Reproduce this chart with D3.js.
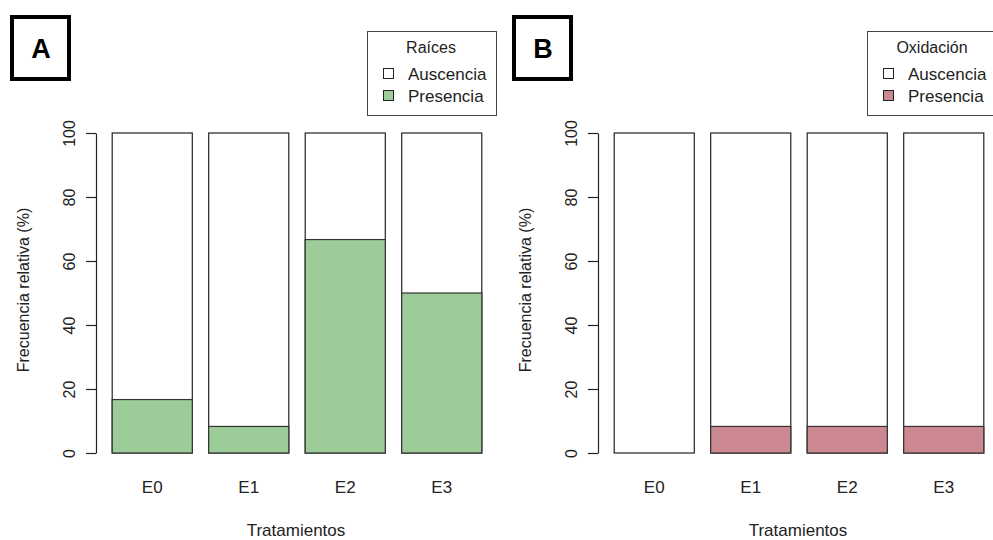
<!DOCTYPE html>
<html><head><meta charset="utf-8">
<script src="https://cdn.jsdelivr.net/npm/d3@7"></script>
<style>body{margin:0;background:#fff}svg{display:block}text{font-family:"Liberation Sans",Arial,sans-serif}</style>
</head><body><svg id="c" width="993" height="540"></svg>
<script>
const categories = ["E0","E1","E2","E3"];
const raicesPresencia = [16.7, 8.3, 66.7, 50];
const oxidacionPresencia = [0, 8.3, 8.3, 8.3];
const yTicks = [0,20,40,60,80,100];
const legendLabels = ["Auscencia","Presencia"];

const svg = d3.select("#c");
const y = d3.scaleLinear().domain([0,100]).range([453,133]);

function panel(opt){
  const g = svg.append("g");
  const x = d3.scaleBand().domain(categories).range([opt.x0, opt.x0+386]).paddingInner(0.17).paddingOuter(0.085);
  g.selectAll("rect.aus").data(categories).join("rect")
    .attr("x", d=>x(d)).attr("width", x.bandwidth())
    .attr("y", y(100)).attr("height", y(0)-y(100))
    .attr("fill","#fff").attr("stroke","#222").attr("stroke-width",1.2);
  g.selectAll("rect.pre").data(opt.values).join("rect")
    .attr("x", (d,i)=>x(categories[i])).attr("width", x.bandwidth())
    .attr("y", d=>y(d)).attr("height", d=>y(0)-y(d))
    .attr("fill", opt.color).attr("stroke","#333").attr("stroke-width",1.2)
    .attr("display", d=> d>0 ? null : "none");
  const ax = g.append("g").attr("transform",`translate(${opt.axisX},0)`)
    .call(d3.axisLeft(y).tickValues(yTicks).tickSize(10).tickSizeOuter(0).tickPadding(4));
  ax.select(".domain").attr("stroke","#222").attr("stroke-width",1.2);
  ax.selectAll(".tick line").attr("stroke","#222").attr("stroke-width",1.2);
  ax.selectAll(".tick text").attr("font-size",16).attr("fill","#222")
    .attr("transform","rotate(-90)").attr("x",0).attr("y",-21).attr("dy","0")
    .attr("text-anchor","middle");
  g.selectAll("text.xl").data(categories).join("text")
    .attr("x", d=>x(d)+x.bandwidth()/2).attr("y",493)
    .attr("text-anchor","middle").attr("font-size",17).attr("fill","#222").text(d=>d);
  g.append("text").attr("x", opt.x0+192).attr("y",536).attr("text-anchor","middle")
    .attr("font-size",17).attr("fill","#222").text("Tratamientos");
  g.append("text").attr("transform",`translate(${opt.axisX-67},290) rotate(-90)`)
    .attr("text-anchor","middle").attr("font-size",16).attr("fill","#222").text("Frecuencia relativa (%)");
  g.append("rect").attr("x",opt.lx).attr("y",17).attr("width",57).attr("height",62)
    .attr("fill","none").attr("stroke","#000").attr("stroke-width",4);
  g.append("text").attr("x",opt.lx+29).attr("y",58).attr("text-anchor","middle")
    .attr("font-size",27).attr("font-weight","bold").attr("fill","#000").text(opt.label);
  const L = g.append("g").attr("transform",`translate(${opt.legX},31)`);
  L.append("rect").attr("x",0.5).attr("y",0.5).attr("width",opt.legW).attr("height",84)
    .attr("fill","#fff").attr("stroke","#444").attr("stroke-width",1);
  L.append("text").attr("x",opt.titleX).attr("y",22).attr("text-anchor","middle")
    .attr("font-size",16).attr("fill","#222").text(opt.title);
  const cols = ["#fff", opt.color];
  legendLabels.forEach((lab,i)=>{
    L.append("rect").attr("x",16.5).attr("y",37.5+i*22).attr("width",10).attr("height",10)
      .attr("fill",cols[i]).attr("stroke","#222").attr("stroke-width",1);
    L.append("text").attr("x",41).attr("y",49+i*22).attr("font-size",17).attr("fill","#222").text(lab);
  });
}

panel({x0:104, axisX:96, values:raicesPresencia, color:"#9ccd99", label:"A", lx:12,
  legX:367, legW:129, title:"Raíces", titleX:64});
panel({x0:606, axisX:598, values:oxidacionPresencia, color:"#cc8890", label:"B", lx:514,
  legX:867, legW:130, title:"Oxidación", titleX:65});
</script></body></html>
